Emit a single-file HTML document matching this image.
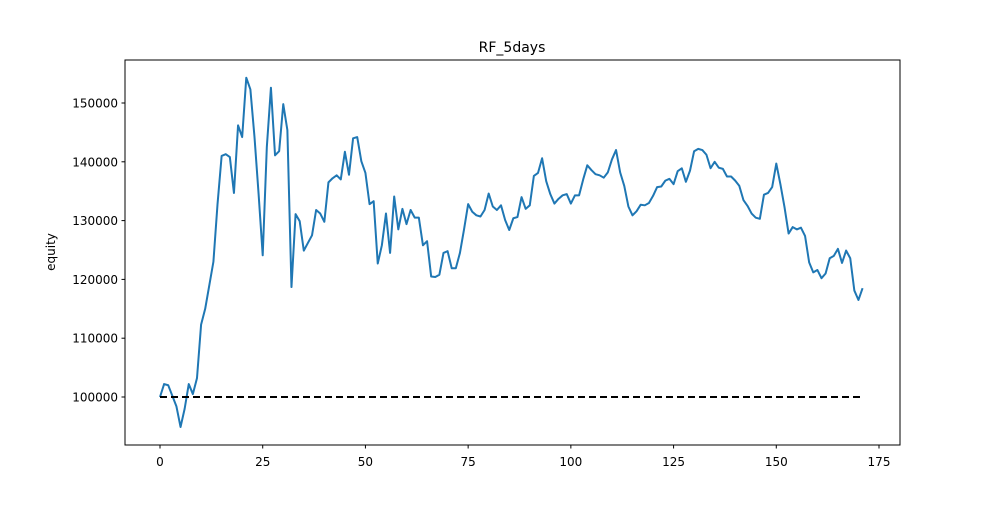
<!DOCTYPE html>
<html><head><meta charset="utf-8"><style>
body{margin:0;background:#fff;font-family:"Liberation Sans","DejaVu Sans",sans-serif}
svg text{font-family:"DejaVu Sans","Liberation Sans",sans-serif}
</style></head><body>
<svg id="chart" width="1000" height="500" xmlns="http://www.w3.org/2000/svg">
<rect width="1000" height="500" fill="#fff"/>
<text x="512" y="52" font-size="14" text-anchor="middle">RF_5days</text>
<text transform="translate(55,252) rotate(-90)" font-size="12" text-anchor="middle">equity</text>
<g id="ticks"></g>
<path id="line" fill="none" stroke="#1f77b4" stroke-width="2" stroke-linejoin="round"/>
<line id="base" stroke="#000" stroke-width="2" stroke-dasharray="7,4"/>
<rect x="125" y="60" width="775" height="385" fill="none" stroke="#000" stroke-width="1"/>
</svg>
<script>
const equityK = [100.0,102.2,102.0,100.2,98.4,94.9,98.0,102.2,100.5,103.2,112.3,115,119,123,132.8,141,141.3,140.8,134.7,146.2,144.2,154.3,152.3,144.2,134.5,124.1,142.5,152.6,141.1,141.8,149.8,145.4,118.7,131.1,129.9,124.9,126.2,127.5,131.8,131.2,129.8,136.5,137.2,137.7,137.0,141.7,137.8,144.0,144.2,140.1,138.1,132.8,133.3,122.7,125.8,131.2,124.5,134.1,128.5,132.0,129.4,131.8,130.5,130.5,125.8,126.5,120.5,120.4,120.8,124.5,124.8,121.9,121.9,124.5,128.5,132.8,131.5,130.9,130.7,131.8,134.6,132.4,131.8,132.6,130.1,128.4,130.4,130.6,134.0,132.0,132.6,137.6,138.1,140.6,136.7,134.5,132.9,133.7,134.3,134.5,132.9,134.3,134.3,137.0,139.4,138.6,137.9,137.7,137.3,138.2,140.4,142.0,138.2,135.9,132.4,130.9,131.6,132.7,132.6,133.0,134.2,135.7,135.8,136.8,137.1,136.2,138.4,138.9,136.6,138.5,141.8,142.2,142.0,141.2,138.9,140.0,139.0,138.8,137.5,137.5,136.8,135.9,133.5,132.5,131.2,130.5,130.3,134.4,134.7,135.7,139.7,136.2,132.3,127.8,128.9,128.5,128.8,127.4,122.9,121.2,121.6,120.2,121.0,123.6,124.0,125.2,122.8,124.9,123.6,118.1,116.5,118.5];
const baseline = 100000;
const xTicks = [0,25,50,75,100,125,150,175];
const yTicks = [100000,110000,120000,130000,140000,150000];
const X = v => 160 + v * (719/175);
const Y = v => 397 - (v - 100000) * (294/50000);
const NS = "http://www.w3.org/2000/svg";
let d = "";
equityK.forEach((v,i)=>{ d += (i?"L":"M") + X(i).toFixed(2) + "," + Y(v*1000).toFixed(2); });
document.getElementById('line').setAttribute('d', d);
const b = document.getElementById('base');
b.setAttribute('x1', X(0)); b.setAttribute('x2', X(equityK.length-1));
b.setAttribute('y1', Y(baseline)); b.setAttribute('y2', Y(baseline));
const g = document.getElementById('ticks');
xTicks.forEach(t=>{
  const l = document.createElementNS(NS,'line');
  
  
  l.setAttribute('x1',X(t)); l.setAttribute('x2',X(t)); l.setAttribute('y1',445); l.setAttribute('y2',448.5); l.setAttribute('stroke','#000');
  g.appendChild(l);
  const tx = document.createElementNS(NS,'text');
  
  
  tx.setAttribute('x',X(t)); tx.setAttribute('y',466); tx.setAttribute('font-size','12'); tx.setAttribute('text-anchor','middle');
  tx.textContent = t; g.appendChild(tx);
});
yTicks.forEach(t=>{
  const l = document.createElementNS(NS,'line');
  
  
  l.setAttribute('x1',121.5); l.setAttribute('x2',125); l.setAttribute('y1',Y(t)); l.setAttribute('y2',Y(t)); l.setAttribute('stroke','#000');
  g.appendChild(l);
  const tx = document.createElementNS(NS,'text');
  
  
  tx.setAttribute('x',118); tx.setAttribute('y',Y(t)+4.5); tx.setAttribute('font-size','12'); tx.setAttribute('text-anchor','end');
  tx.textContent = t; g.appendChild(tx);
});
</script>
</body></html>
